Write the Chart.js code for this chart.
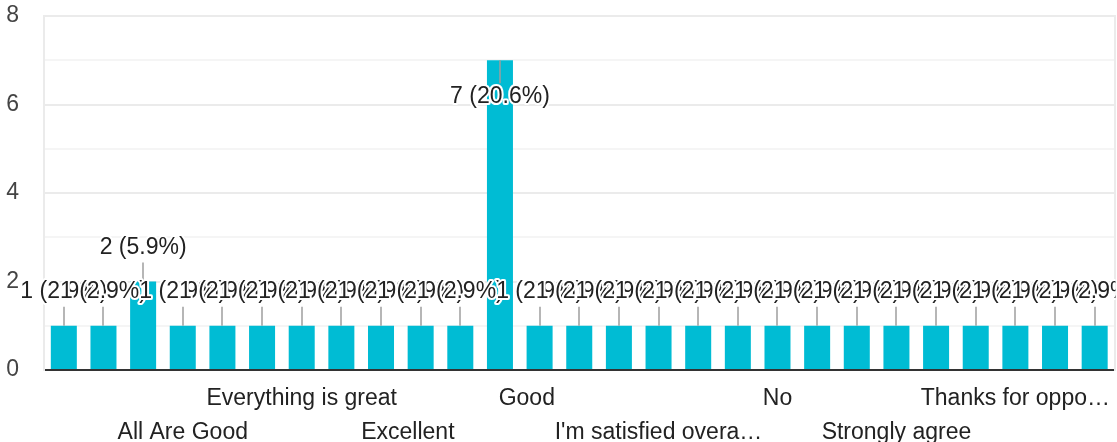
<!DOCTYPE html>
<html>
<head>
<meta charset="utf-8">
<script src="https://cdn.jsdelivr.net/npm/chart.js@4/dist/chart.umd.min.js"></script>
<style>
html,body{margin:0;padding:0;background:#fff;overflow:hidden}
#wrap{width:1117px;height:442px;position:relative}
</style>
</head>
<body>
<div id="wrap"><canvas id="c"></canvas></div>
<script>
// ---- data ----
const categories = [
  "Agree", "All", "All Are Fine", "All Are Good", "Best",
  "Everything is fine", "Everything is great", "Everything is ok",
  "Excellent", "Excellent    ", "Fine", "Good", "Good    ", "Great", "Happy",
  "I'm satisfied overa\u2026", "Nice", "Nil", "No", "Nothing", "Satisfied",
  "Strongly agree", "Super", "Thank you", "Thanks for oppo\u2026", "Very good", "Yes"
];
const counts = [1, 1, 2, 1, 1, 1, 1, 1, 1, 1, 1, 7, 1, 1, 1, 1, 1, 1, 1, 1, 1, 1, 1, 1, 1, 1, 1];
const yTickLabels = ["0", "2", "4", "6", "8"];
const xLabelRow1 = [6, 12, 18, 24];   // category indices labelled on first row
const xLabelRow2 = [3, 9, 15, 21];    // category indices labelled on second row

const FONT = '"Liberation Sans", Arial, sans-serif';

const annotationPlugin = {
  id: 'annot',
  afterDatasetsDraw(chart) {
    const ctx = chart.ctx;
    const area = chart.chartArea;
    const meta = chart.getDatasetMeta(0);
    const total = counts.reduce((a, b) => a + b, 0);
    const items = meta.data.map((bar, i) => {
      const v = counts[i];
      const text = v + ' (' + (v / total * 100).toFixed(1) + '%)';
      const top = bar.y;
      const inside = (top - 34 - 14) < area.top;
      if (inside) {
        return {text, x: bar.x, ty: top + 36, s0: top, s1: top + 23};
      }
      return {text, x: bar.x, ty: top - 34, s0: top, s1: top - 19};
    });
    ctx.save();
    ctx.beginPath();
    ctx.rect(0, 0, area.right + 1, chart.height);
    ctx.clip();
    ctx.strokeStyle = '#9e9e9e';
    ctx.lineWidth = 1.5;
    items.forEach(it => {
      ctx.beginPath();
      ctx.moveTo(Math.round(it.x), it.s0);
      ctx.lineTo(Math.round(it.x), it.s1);
      ctx.stroke();
    });
    ctx.font = '23px ' + FONT;
    ctx.textAlign = 'center';
    ctx.textBaseline = 'middle';
    ctx.lineJoin = 'round';
    items.forEach(it => {
      ctx.lineWidth = 4;
      ctx.strokeStyle = '#ffffff';
      ctx.strokeText(it.text, it.x, it.ty);
      ctx.fillStyle = '#222222';
      ctx.fillText(it.text, it.x, it.ty);
    });
    ctx.restore();
  }
};

new Chart(document.getElementById('c'), {
  type: 'bar',
  data: {
    labels: categories,
    datasets: [{
      data: counts,
      backgroundColor: '#00bcd4',
      borderWidth: 0,
      categoryPercentage: 1,
      barPercentage: 0.656
    }]
  },
  options: {
    responsive: true,
    maintainAspectRatio: false,
    animation: false,
    devicePixelRatio: 1,
    layout: {padding: {top: 16, right: 0.5, left: 0, bottom: 0}},
    plugins: {legend: {display: false}, tooltip: {enabled: false}},
    scales: {
      x: {
        grid: {display: false, drawTicks: false},
        border: {display: true, color: '#333333', width: 2},
        ticks: {
          autoSkip: false, maxRotation: 0, minRotation: 0, padding: 12,
          color: '#222222',
          font: {family: FONT, size: 23, lineHeight: 1.478},
          callback: function (v, i) {
            if (xLabelRow1.includes(i)) return [categories[i], ''];
            if (xLabelRow2.includes(i)) return ['', categories[i]];
            return '';
          }
        },
        afterFit(s) { s.height = 72; }
      },
      y: {
        min: 0, max: 8,
        grid: {
          drawTicks: false,
          lineWidth: 2,
          color: c => (c.tick && c.tick.value % 2 === 0) ? '#ebebeb' : '#f5f5f5'
        },
        border: {display: true, color: '#ebebeb', width: 2},
        ticks: {
          stepSize: 1, padding: 25, color: '#444444',
          font: {family: FONT, size: 23},
          callback: v => yTickLabels.includes(String(v)) ? String(v) : ''
        },
        afterFit(s) { s.width = 44; s.paddingTop = 10; s.paddingBottom = 10; }
      },
      y2: {
        position: 'right', min: 0, max: 8,
        grid: {drawOnChartArea: false, drawTicks: false},
        border: {display: true, color: '#ebebeb', width: 2},
        ticks: {display: false},
        afterFit(s) { s.width = 2; }
      }
    }
  },
  plugins: [annotationPlugin]
});
</script>
</body>
</html>
